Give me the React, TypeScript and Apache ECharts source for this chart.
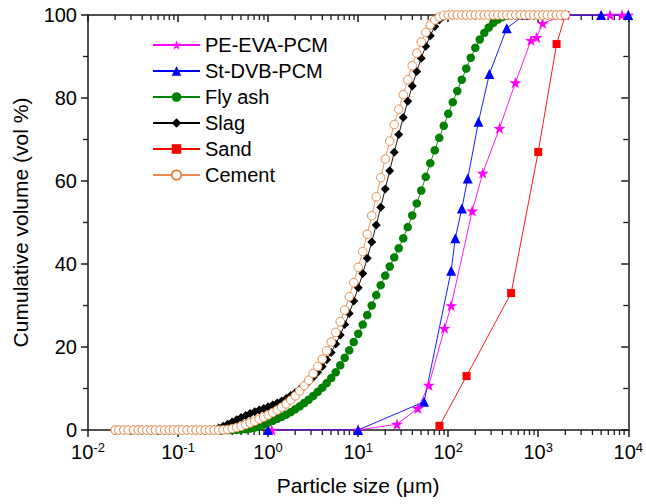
import React, { useEffect, useRef } from 'react';
import * as echarts from 'echarts';

// Particle size classes (µm) of the laser-diffraction curves
const SIZE_UM = [
  0.020, 0.022, 0.025, 0.028, 0.032, 0.036, 0.040, 0.045, 0.050, 0.056,
  0.063, 0.071, 0.080, 0.089, 0.100, 0.112, 0.126, 0.142, 0.159, 0.178,
  0.200, 0.224, 0.252, 0.283, 0.317, 0.356, 0.399, 0.448, 0.502, 0.564,
  0.632, 0.710, 0.796, 0.893, 1.002, 1.125, 1.262, 1.416, 1.589, 1.783,
  2.000, 2.244, 2.518, 2.825, 3.170, 3.557, 3.991, 4.477, 5.024, 5.637,
  6.325, 7.096, 7.962, 8.934, 10.024, 11.247, 12.619, 14.159, 15.887, 17.825,
  20.000, 22.440, 25.179, 28.251, 31.698, 35.566, 39.905, 44.774, 50.238, 56.368,
  63.246, 70.963, 79.621, 89.337, 100.237, 112.468, 126.191, 141.589, 158.866, 178.250,
  200.000, 224.404, 251.785, 282.508, 316.979, 355.656, 399.052, 447.744, 502.377, 563.677,
  632.456, 709.627, 796.214, 893.367, 1002.374, 1124.683, 1261.915, 1415.892, 1588.656, 1782.502,
  2000.000,
];

const CEMENT = [
  0, 0, 0, 0, 0, 0, 0, 0, 0, 0,
  0, 0, 0, 0, 0, 0, 0, 0, 0, 0,
  0, 0, 0, 0, 0.05, 0.15, 0.35, 0.6, 0.9, 1.3,
  1.7, 2.1, 2.6, 3.1, 3.6, 4.2, 4.8, 5.5, 6.3, 7.2,
  8.2, 9.4, 10.7, 12.0, 13.6, 15.3, 17.1, 19.1, 21.2, 23.5,
  26.1, 28.9, 32.1, 35.5, 39.2, 43.0, 47.2, 51.6, 56.2, 60.8,
  65.3, 69.6, 73.6, 77.3, 80.8, 84.4, 87.8, 90.8, 93.5, 95.8,
  97.6, 98.8, 99.5, 99.9, 100, 100, 100, 100, 100, 100,
  100, 100, 100, 100, 100, 100, 100, 100, 100, 100,
  100, 100, 100, 100, 100, 100, 100, 100, 100, 100,
  100,
];

const SLAG = [
  0, 0, 0, 0, 0, 0, 0, 0, 0, 0,
  0, 0, 0, 0, 0, 0, 0, 0, 0, 0,
  0, 0, 0.2, 0.5, 0.9, 1.4, 1.9, 2.5, 3.0, 3.5,
  4.0, 4.4, 4.8, 5.2, 5.6, 6.0, 6.5, 7.0, 7.6, 8.3,
  9.0, 9.8, 10.7, 11.6, 12.7, 13.9, 15.3, 16.9, 18.7, 20.7,
  22.9, 25.4, 28.1, 31.1, 34.3, 37.7, 41.4, 45.3, 49.4, 53.7,
  58.1, 62.5, 66.9, 71.2, 75.3, 79.2, 82.9, 86.4, 89.6, 92.5,
  95.0, 97.2, 98.8, 99.7, 100, 100, 100, 100, 100, 100,
  100, 100, 100, 100, 100, 100, 100, 100, 100, 100,
  100, 100, 100, 100, 100, 100, 100, 100, 100, 100,
  100,
];

const FLY_ASH = [
  0, 0, 0, 0, 0, 0, 0, 0, 0, 0,
  0, 0, 0, 0, 0, 0, 0, 0, 0, 0,
  0, 0, 0, 0, 0, 0, 0, 0.05, 0.1, 0.2,
  0.35, 0.6, 0.9, 1.3, 1.8, 2.2, 2.7, 3.2, 3.7, 4.3,
  5.0, 5.7, 6.5, 7.3, 8.2, 9.2, 10.2, 11.3, 12.5, 13.9,
  15.6, 17.4, 19.2, 21.2, 23.2, 25.4, 27.7, 30.0, 32.5, 34.9,
  37.2, 39.4, 41.6, 43.8, 46.2, 48.9, 51.7, 54.6, 57.7, 61.0,
  64.3, 67.4, 70.4, 73.3, 76.2, 79.0, 81.7, 84.4, 87.1, 89.7,
  92.1, 94.1, 95.7, 97.0, 98.1, 98.9, 99.5, 99.8, 100, 100,
  100, 100, 100, 100, 100, 100, 100, 100, 100, 100,
  100,
];

const PE_EVA_X = [1.1, 10, 27, 46, 61, 91, 108, 185, 242, 371, 558, 832, 961, 1120, 2000, 6300, 8500, 10000];
const PE_EVA_Y = [0, 0, 1.4, 5.2, 10.8, 24.5, 30, 52.8, 61.9, 72.7, 83.7, 93.9, 94.6, 98, 100, 100, 100, 100];

const ST_DVB_X = [1, 10, 54, 108, 120, 142, 165, 217, 287, 447, 700, 5000, 10000];
const ST_DVB_Y = [0, 0, 6.8, 38.4, 46.2, 53.4, 60.6, 74.3, 85.8, 96.8, 100, 100, 100];

const SAND_X = [80, 160, 500, 1000, 1600, 2000];
const SAND_Y = [1, 13, 33, 67, 93, 100];

// minor tick positions: 2..9 in each decade on x, odd tens on y
const X_DECADES = [0.01, 0.1, 1, 10, 100, 1000];
const X_MINOR_MANTISSAS = [2, 3, 4, 5, 6, 7, 8, 9];
const Y_MINOR_TICKS = [10, 30, 50, 70, 90];

const X_MIN = 0.01;
const X_MAX = 10000;
const Y_MIN = 0;
const Y_MAX = 100;
const Y_TICK_INTERVAL = 20;

const FONT = '"Liberation Sans", Arial, Helvetica, sans-serif';
const AXIS_COLOR = '#1a1a1a';
const STAR =
  'path://M50 0 L61.2 34.5 L97.6 34.5 L68.2 55.9 L79.4 90.5 L50 69.1 L20.6 90.5 L31.8 55.9 L2.4 34.5 L38.8 34.5 Z';

const zip = (xs: number[], ys: number[]) => xs.map((x, i) => [x, ys[i]]);

export default function App() {
  const ref = useRef<HTMLDivElement>(null);

  useEffect(() => {
    if (!ref.current) return;
    const chart = echarts.init(ref.current, null, { renderer: 'svg' });

    const axisLine = () => ({ show: true, onZero: false, lineStyle: { color: AXIS_COLOR, width: 1.5 } });
    const tick = (inside: boolean) => ({
      show: true,
      inside,
      length: 7,
      lineStyle: { color: AXIS_COLOR, width: 1.5 },
    });

    const xMinor: number[][] = [];
    X_DECADES.forEach((d) => X_MINOR_MANTISSAS.forEach((m) => xMinor.push([m * d, Y_MIN])));
    const yMinor = Y_MINOR_TICKS.map((v) => [X_MIN, v]);

    // a custom series that draws one short tick per data item through the axes' scales
    const tickSeries = (data: number[][], toPixel: (api: any) => number[]) => ({
      type: 'custom',
      data,
      encode: { x: 0, y: 1 },
      renderItem: (_p: any, api: any) => {
        const [x1, y1, x2, y2] = toPixel(api);
        return {
          type: 'line',
          shape: { x1, y1, x2, y2 },
          style: { stroke: AXIS_COLOR, lineWidth: 1.3 },
        };
      },
    });

    const lineSeries = (
      name: string,
      data: number[][],
      color: string,
      symbol: string,
      symbolSize: number,
      itemStyle: any = { color },
    ) => ({
      name,
      type: 'line',
      data,
      symbol,
      symbolSize,
      symbolKeepAspect: true,
      lineStyle: { color, width: 0.9 },
      itemStyle,
    });

    const logAxis = (position: string, inside: boolean) => ({
      type: 'log',
      logBase: 10,
      min: X_MIN,
      max: X_MAX,
      position,
      axisLine: axisLine(),
      axisTick: tick(inside),
      minorTick: { show: false },
      splitLine: { show: false },
    });

    const valueAxis = (position: string, inside: boolean) => ({
      type: 'value',
      min: Y_MIN,
      max: Y_MAX,
      interval: Y_TICK_INTERVAL,
      position,
      axisLine: axisLine(),
      axisTick: tick(inside),
      minorTick: { show: false },
      splitLine: { show: false },
    });

    chart.setOption({
      animation: false,
      grid: { left: 88, right: 17, top: 15, bottom: 74, containLabel: false },
      legend: {
        orient: 'vertical',
        left: 147,
        top: 30,
        itemWidth: 47,
        itemHeight: 12,
        itemGap: 6,
        textStyle: { fontSize: 20, fontFamily: FONT, color: '#000' },
        data: ['PE-EVA-PCM', 'St-DVB-PCM', 'Fly ash', 'Slag', 'Sand', 'Cement'],
      },
      xAxis: [
        {
          ...logAxis('bottom', false),
          axisLabel: {
            margin: 11,
            formatter: (v: number) => `{b|10}{s|${Math.round(Math.log10(v))}}`,
            rich: {
              b: { fontSize: 20, fontFamily: FONT, color: '#000', lineHeight: 22 },
              s: { fontSize: 13, fontFamily: FONT, color: '#000', lineHeight: 13, verticalAlign: 'top' },
            },
          },
          name: 'Particle size (μm)',
          nameLocation: 'middle',
          nameGap: 45,
          nameTextStyle: { fontSize: 21, fontFamily: FONT, color: '#000' },
        },
        {
          ...logAxis('top', true),
          axisLabel: { show: false },
        },
      ],
      yAxis: [
        {
          ...valueAxis('left', false),
          axisLabel: { fontSize: 20, fontFamily: FONT, color: '#000', margin: 11 },
          name: 'Cumulative volume (vol %)',
          nameLocation: 'middle',
          nameGap: 57,
          nameTextStyle: { fontSize: 21, fontFamily: FONT, color: '#000' },
        },
        {
          ...valueAxis('right', true),
          axisLabel: { show: false },
        },
      ],
      series: [
        // x minor ticks: bottom (outward) and top (inward)
        tickSeries(xMinor, (api) => {
          const p = api.coord([api.value(0), Y_MIN]);
          return [p[0], p[1], p[0], p[1] + 5];
        }),
        tickSeries(xMinor, (api) => {
          const p = api.coord([api.value(0), Y_MAX]);
          return [p[0], p[1], p[0], p[1] + 5];
        }),
        // y minor ticks: left (outward) and right (inward)
        tickSeries(yMinor, (api) => {
          const p = api.coord([X_MIN, api.value(1)]);
          return [p[0], p[1], p[0] - 5, p[1]];
        }),
        tickSeries(yMinor, (api) => {
          const p = api.coord([X_MAX, api.value(1)]);
          return [p[0], p[1], p[0] - 5, p[1]];
        }),
        lineSeries('PE-EVA-PCM', zip(PE_EVA_X, PE_EVA_Y), '#ff00ff', STAR, 12),
        lineSeries('St-DVB-PCM', zip(ST_DVB_X, ST_DVB_Y), '#0000ff', 'triangle', 10),
        lineSeries('Fly ash', zip(SIZE_UM, FLY_ASH), '#008000', 'circle', 8.5),
        lineSeries('Slag', zip(SIZE_UM, SLAG), '#000000', 'diamond', 9),
        lineSeries('Sand', zip(SAND_X, SAND_Y), '#ff0000', 'rect', 8),
        lineSeries('Cement', zip(SIZE_UM, CEMENT), '#e98a4c', 'circle', 8.5, {
          color: '#ffffff',
          borderColor: '#e98a4c',
          borderWidth: 1,
        }),
      ],
    });

    return () => chart.dispose();
  }, []);

  return (
    <div
      ref={ref}
      style={{ position: 'fixed', left: 0, top: 0, width: 646, height: 504, background: '#fff' }}
    />
  );
}
